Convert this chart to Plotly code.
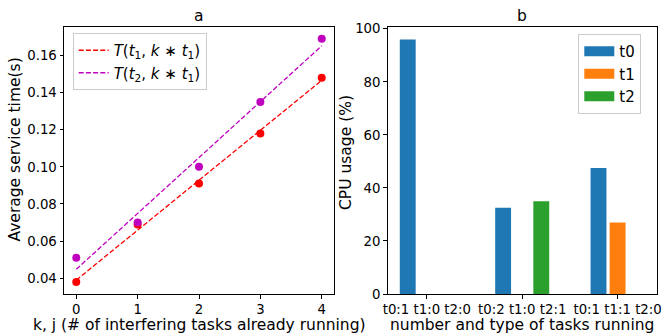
import numpy as np
import plotly.graph_objects as go

# ---- data ----
k_values = [0, 1, 2, 3, 4]
t1_times = [0.038, 0.069, 0.091, 0.118, 0.148]
t2_times = [0.051, 0.070, 0.100, 0.135, 0.169]

groups = ["t0:1 t1:0 t2:0", "t0:2 t1:0 t2:1", "t0:1 t1:1 t2:0"]
cpu_t0 = [96.0, 32.5, 47.5]
cpu_t1 = [0.0, 0.0, 27.0]
cpu_t2 = [0.0, 35.0, 0.0]
series_names = ["t0", "t1", "t2"]

RED = "#ff0000"
MAG = "#bf00bf"
BAR_COLORS = ["#1f77b4", "#ff7f0e", "#2ca02c"]
FONT = "DejaVu Sans"
TICK = 13.3
LABEL = 15.5
W, H = 664, 335

fig = go.Figure()

# left panel: linear fits (legend) and measured points
for ys, col, sub in [(t1_times, RED, "1"), (t2_times, MAG, "2")]:
    coef = np.polyfit(k_values, ys, 1)
    fit = np.polyval(coef, k_values)
    fig.add_trace(go.Scatter(x=k_values, y=fit, mode="lines",
                             line=dict(color=col, width=1.3, dash="5px,2.2px"),
                             name=f"<i>T</i>(<i>t</i><sub>{sub}</sub>, <i>k</i> ∗ <i>t</i><sub>1</sub>)",
                             xaxis="x", yaxis="y", legend="legend"))
for ys, col in [(t1_times, RED), (t2_times, MAG)]:
    fig.add_trace(go.Scatter(x=k_values, y=ys, mode="markers",
                             marker=dict(color=col, size=8), showlegend=False,
                             xaxis="x", yaxis="y"))

# right panel: grouped bars
for vals, col, nm in zip([cpu_t0, cpu_t1, cpu_t2], BAR_COLORS, series_names):
    fig.add_trace(go.Bar(x=groups, y=vals, marker=dict(color=col, line=dict(width=0)),
                         name=nm, legendgroup=nm, showlegend=False,
                         xaxis="x2", yaxis="y2"))
# legend handles drawn as wide patches
for col, nm in zip(BAR_COLORS, series_names):
    fig.add_trace(go.Scatter(x=[None], y=[None], mode="lines",
                             line=dict(color=col, width=12), name=nm, legendgroup=nm,
                             xaxis="x2", yaxis="y2", legend="legend2"))

axis_common = dict(showline=True, linecolor="black", linewidth=1, mirror=True,
                   ticks="outside", ticklen=3.5, tickcolor="black", showgrid=False,
                   zeroline=False, automargin=False,
                   tickfont=dict(family=FONT, size=TICK, color="black"))

Y_DOM = [1 - 294/H, 1 - 26.7/H]
X1_DOM = [64/W, 334/W]
X2_DOM = [387.7/W, 656.7/W]


def ann(text, x, y, angle=0, size=LABEL):
    return dict(text=text, x=x/W, y=1 - y/H, xref="paper", yref="paper",
                showarrow=False, textangle=angle, xanchor="center", yanchor="middle",
                font=dict(family=FONT, size=size, color="black"))


fig.update_layout(
    width=W, height=H,
    margin=dict(l=0, r=0, t=0, b=0),
    paper_bgcolor="white", plot_bgcolor="white",
    font=dict(family=FONT, color="black"),
    barmode="group", bargap=0.4, bargroupgap=0.167,
    xaxis=dict(domain=X1_DOM, range=[-0.2, 4.2], dtick=1, anchor="y", **axis_common),
    yaxis=dict(domain=Y_DOM, range=[0.0315, 0.1755],
               tickvals=[0.04, 0.06, 0.08, 0.10, 0.12, 0.14, 0.16], tickformat=".2f",
               anchor="x", **axis_common),
    xaxis2=dict(domain=X2_DOM, range=[-0.41, 2.41], anchor="y2", type="category",
                **axis_common),
    yaxis2=dict(domain=Y_DOM, range=[0, 100.8], anchor="x2",
                tickvals=[0, 20, 40, 60, 80, 100], **axis_common),
    legend=dict(x=72.7/W, y=1-33/H, xanchor="left", yanchor="top",
                bgcolor="white", bordercolor="#cccccc", borderwidth=1,
                font=dict(family=FONT, size=15), tracegroupgap=0),
    legend2=dict(x=578.3/W, y=1-34/H, xanchor="left", yanchor="top",
                 bgcolor="white", bordercolor="#cccccc", borderwidth=1,
                 font=dict(family=FONT, size=15), itemwidth=30, tracegroupgap=0),
    annotations=[
        ann("a", (64+334)/2, 16),
        ann("b", (387.7+656.7)/2, 16),
        ann("k, j (# of interfering tasks already running)", (64+334)/2, 324.5),
        ann("number and type of tasks running", (387.7+656.7)/2, 324.5),
        ann("Average service time(s)", 14.5, 150, angle=-90),
        ann("CPU usage (%)", 345.5, 152.5, angle=-90),
    ],
)

fig.write_html("out.html",
               config={"displayModeBar": False},
               post_script="document.body.style.margin='0';document.body.style.overflow='hidden';")
